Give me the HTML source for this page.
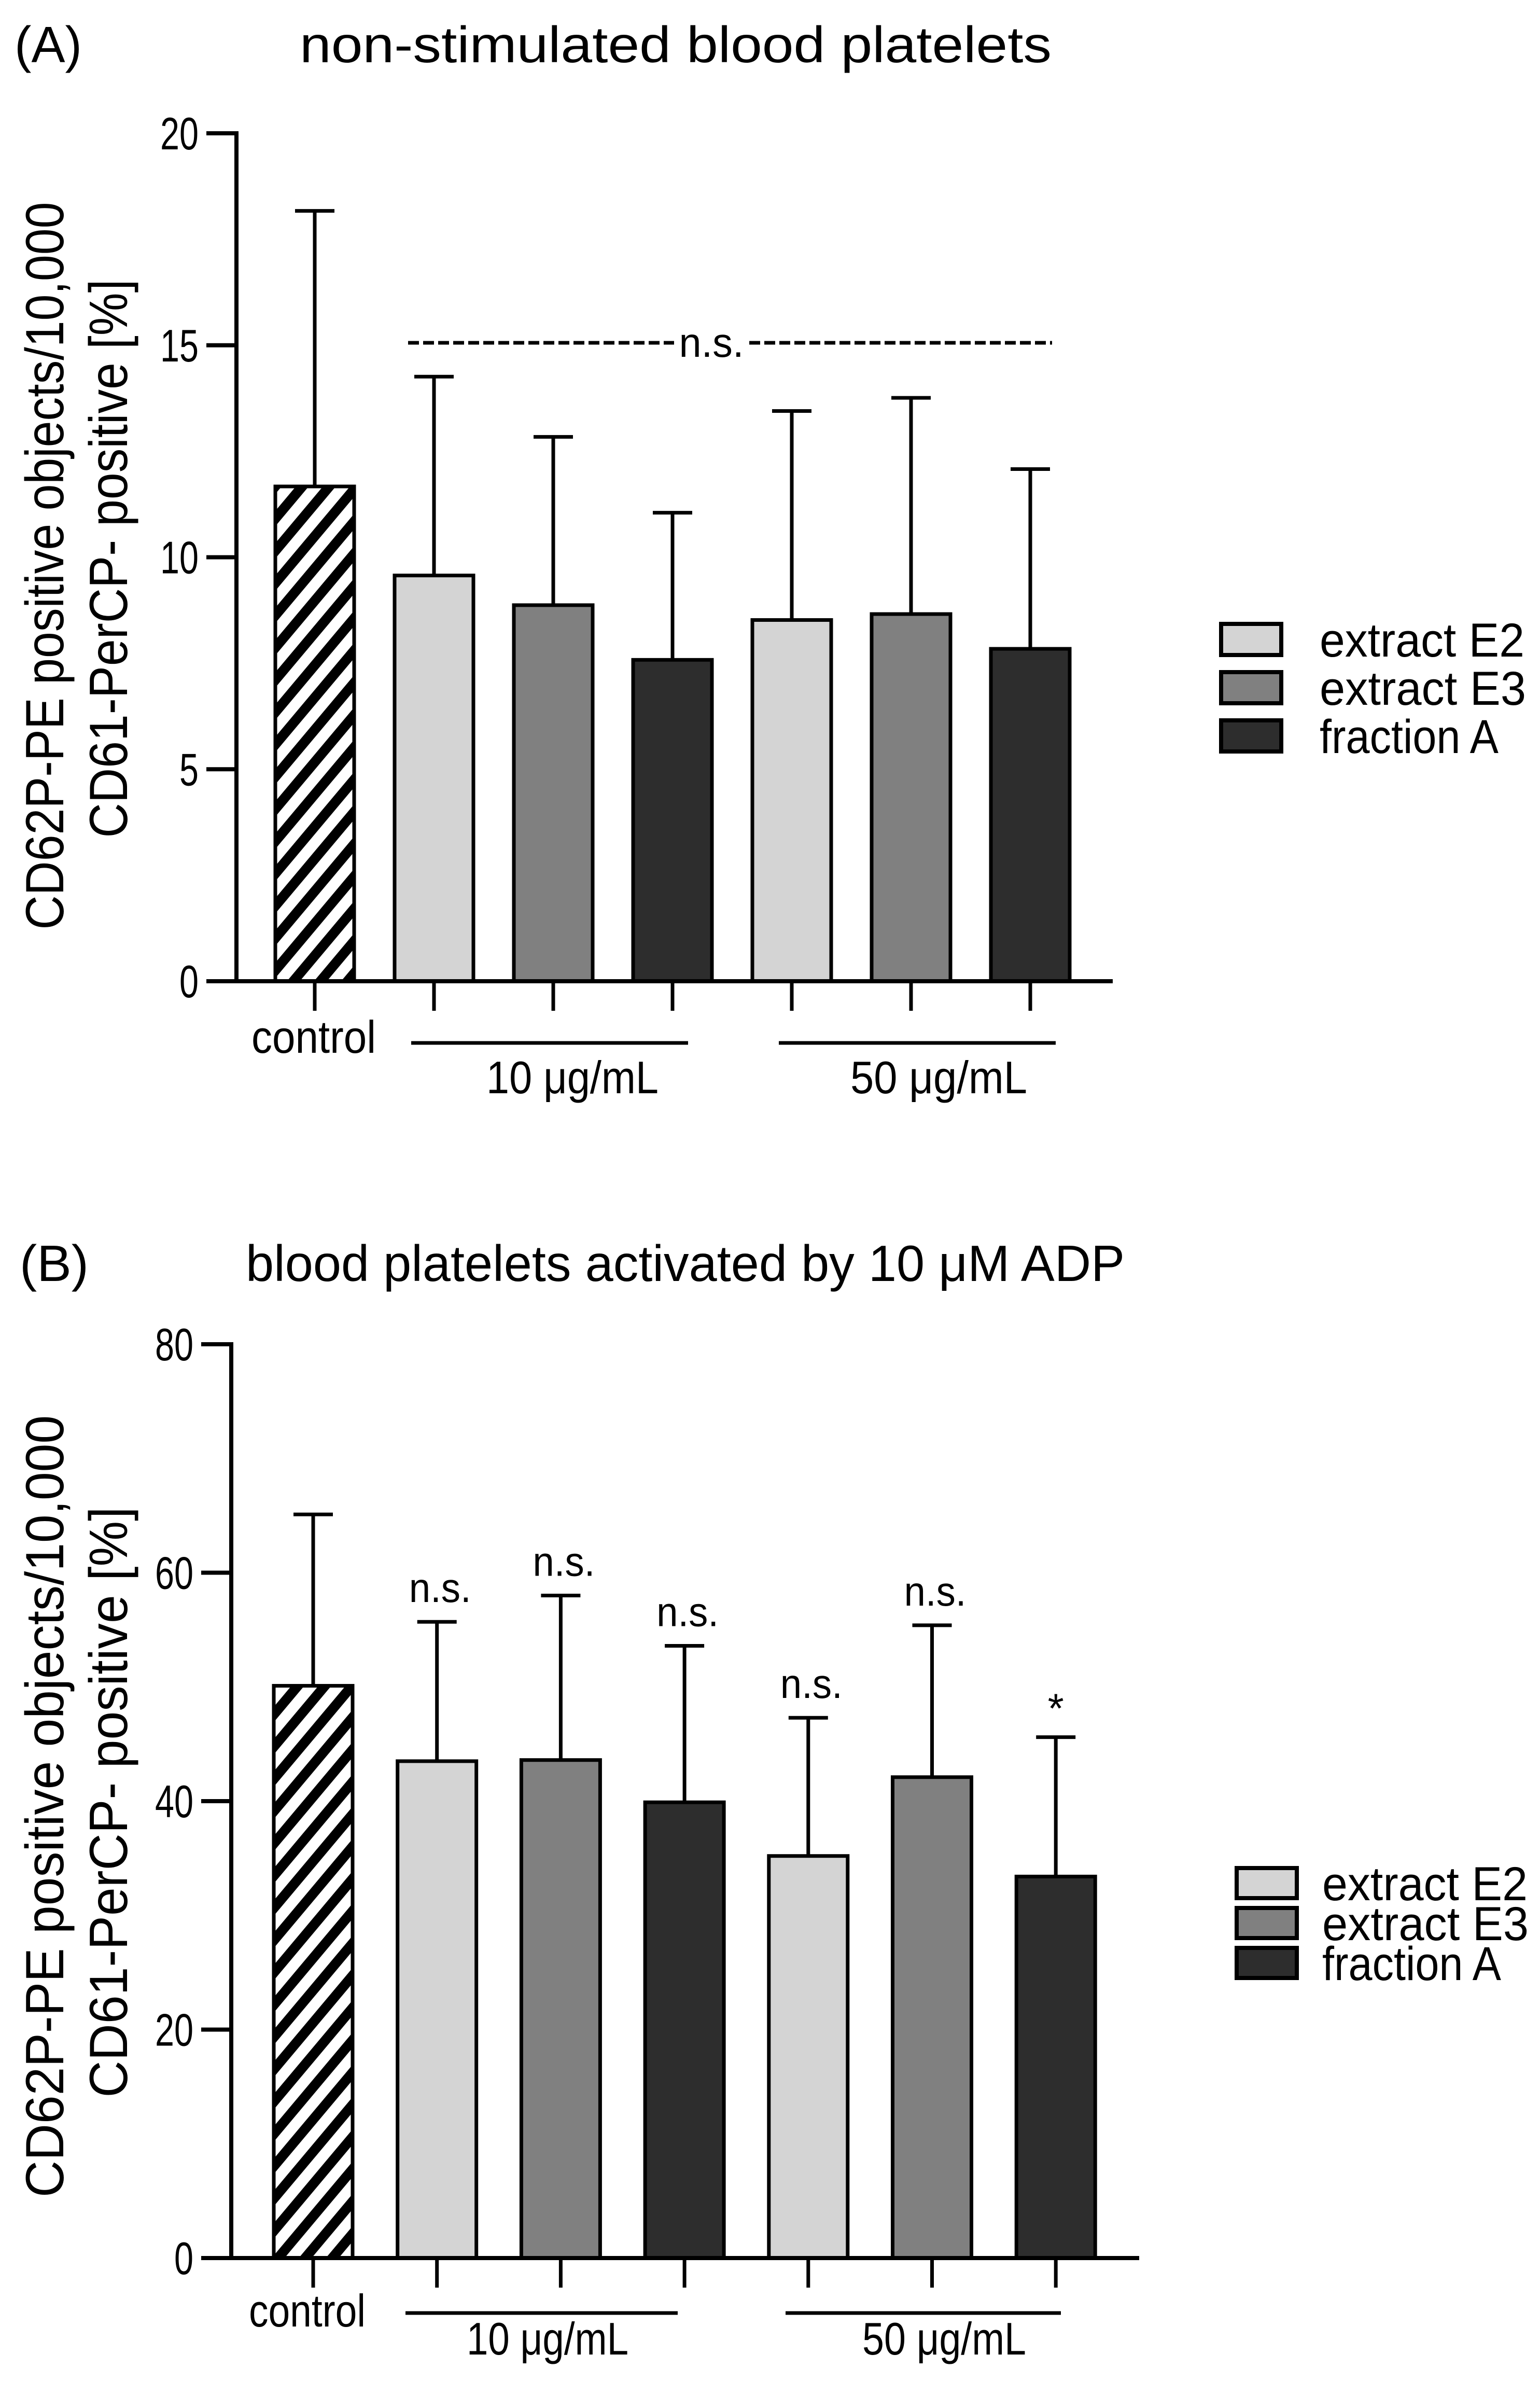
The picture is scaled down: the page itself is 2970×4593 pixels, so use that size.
<!DOCTYPE html>
<html><head><meta charset="utf-8"><style>
html,body{margin:0;padding:0;background:#fff}
svg{display:block}
text{font-family:"Liberation Sans",Arial,sans-serif;fill:#000}
</style></head><body>
<svg id="chart" width="2970" height="4593" viewBox="0 0 2970 4593" xmlns="http://www.w3.org/2000/svg">
<defs>
<pattern id="hatch" patternUnits="userSpaceOnUse" width="40" height="40" patternTransform="rotate(40)">
<rect x="0" y="0" width="40" height="40" fill="#fff"/>
<rect x="0" y="0" width="19" height="40" fill="#000"/>
</pattern>
</defs>
<g id="panelA"></g>
<g id="panelB"></g>
</svg>
<script>
// ---- data ----
const categories = ["control","E2 10","E3 10","A 10","E2 50","E3 50","A 50"];
const seriesNames = ["extract E2","extract E3","fraction A"];
const valuesA = [11.67, 9.57, 8.87, 7.58, 8.52, 8.66, 7.84];
const errorsA = [18.17, 14.26, 12.84, 11.05, 13.45, 13.76, 12.08];
const ticksA = [0, 5, 10, 15, 20];
const valuesB = [50.1, 43.5, 43.6, 39.9, 35.2, 42.1, 33.4];
const errorsB = [65.1, 55.7, 58.0, 53.6, 47.3, 55.4, 45.6];
const ticksB = [0, 20, 40, 60, 80];
const sigB = ["", "n.s.", "n.s.", "n.s.", "n.s.", "n.s.", "*"];
const fills = ["url(#hatch)","#d4d4d4","#808080","#2d2d2d","#d4d4d4","#808080","#2d2d2d"];
const legendFills = ["#d4d4d4","#808080","#2d2d2d"];

const NS = "http://www.w3.org/2000/svg";
function mk(parent, tag, attrs, txt){
  const e = document.createElementNS(NS, tag);
  for (const k in attrs) e.setAttribute(k, attrs[k]);
  if (txt !== undefined) e.textContent = txt;
  parent.appendChild(e);
  return e;
}

function drawPanel(g, cfg){
  const yScale = v => cfg.y0 - (v - cfg.yMin) / (cfg.yMax - cfg.yMin) * (cfg.y0 - cfg.yTop);
  const xScale = i => cfg.x0 + i * cfg.step;
  const bw = 152;
  let t = mk(g,'text',{x:cfg.labelX,y:cfg.titleY,'font-size':98,textLength:cfg.labelW,lengthAdjust:'spacingAndGlyphs'},cfg.label);
  
  
  t = mk(g,'text',{x:cfg.titleX,y:cfg.titleY,'font-size':98,textLength:cfg.titleW,lengthAdjust:'spacingAndGlyphs'},cfg.title);
  
  
  const yt = mk(g,'g',{});
  
  
  mk(yt,'text',{x:0,y:0,'font-size':104,'text-anchor':'middle',transform:`translate(${cfg.yl1x},${cfg.yl1c}) rotate(-90)`,textLength:cfg.yl1w,lengthAdjust:'spacingAndGlyphs'},"CD62P-PE positive objects/10,000");
  mk(yt,'text',{x:0,y:0,'font-size':104,'text-anchor':'middle',transform:`translate(${cfg.yl2x},${cfg.yl2c}) rotate(-90)`,textLength:cfg.yl2w,lengthAdjust:'spacingAndGlyphs'},"CD61-PerCP- positive [%]");
  const ya = mk(g,'g',{});
  
  
  mk(ya,'line',{x1:cfg.axX,y1:yScale(cfg.yMax)-4,x2:cfg.axX,y2:cfg.y0+4,stroke:'#000','stroke-width':8});
  cfg.ticks.forEach(v=>{
    const y = yScale(v);
    const tk = mk(ya,'line',{x1:cfg.axX-58,y1:y,x2:cfg.axX,y2:y,stroke:'#000','stroke-width':8});
    
    
    const lb = mk(ya,'text',{x:cfg.axX-73,y:y+31,'font-size':88,'text-anchor':'end',textLength:String(v).length*37,lengthAdjust:'spacingAndGlyphs'},String(v));
    
    
  });
  cfg.values.forEach((v,i)=>{
    const cx = xScale(i);
    const bg = mk(g,'g',{});
    
    
    mk(bg,'line',{x1:cx,y1:yScale(cfg.errors[i]),x2:cx,y2:yScale(v),stroke:'#000','stroke-width':7});
    mk(bg,'line',{x1:cx-38,y1:yScale(cfg.errors[i]),x2:cx+38,y2:yScale(cfg.errors[i]),stroke:'#000','stroke-width':7});
    mk(bg,'rect',{x:cx-bw/2,y:yScale(v),width:bw,height:cfg.y0-yScale(v),fill:fills[i],stroke:'#000','stroke-width':7});
    const tk = mk(g,'line',{x1:cx,y1:cfg.y0,x2:cx,y2:cfg.y0+57,stroke:'#000','stroke-width':7});
    
    
    if (cfg.sig && cfg.sig[i]) {
      const s = mk(g,'text',{x:cx+(cfg.sig[i]==='*'?0:6),y:yScale(cfg.errors[i])-(cfg.sig[i]==='*'?28:38),'font-size':80,'text-anchor':'middle'},cfg.sig[i]);
      if (cfg.sig[i]!=='*') s.setAttribute('textLength',120), s.setAttribute('lengthAdjust','spacingAndGlyphs');
      
      
    }
  });
  const xa = mk(g,'line',{x1:cfg.axX-58,y1:cfg.y0,x2:cfg.axEnd,y2:cfg.y0,stroke:'#000','stroke-width':8});
  
  
  t = mk(g,'text',{x:cfg.ctrlX,y:cfg.ctrlY,'font-size':88,textLength:cfg.ctrlW,lengthAdjust:'spacingAndGlyphs'},"control");
  
  
  cfg.groups.forEach((gr,k)=>{
    const ln = mk(g,'line',{x1:gr.x1,y1:cfg.grpY,x2:gr.x2,y2:cfg.grpY,stroke:'#000','stroke-width':7});
    
    
    const tx = mk(g,'text',{x:gr.tx,y:cfg.grpTY,'font-size':88,textLength:gr.tw,lengthAdjust:'spacingAndGlyphs'},gr.label);
    
    
  });
  seriesNames.forEach((n,i)=>{
    const lg = mk(g,'g',{});
    
    
    const y = cfg.legY + i*cfg.legStep;
    mk(lg,'rect',{x:cfg.legX,y:y,width:116,height:cfg.legH,fill:legendFills[i],stroke:'#000','stroke-width':8});
    mk(lg,'text',{x:cfg.legTX,y:y+cfg.legH/2+33,'font-size':92,textLength:cfg.legTW[i],lengthAdjust:'spacingAndGlyphs'},n);
  });
}

drawPanel(document.getElementById('panelA'),{
  label:"(A)", labelX:28, labelW:130, title:"non-stimulated blood platelets", titleX:578, titleW:1450, titleY:120,
  yMin:0, yMax:20, y0:1892, yTop:257, axX:456, axEnd:2146, x0:607, step:230,
  values:valuesA, errors:errorsA, ticks:ticksA,
  yl1x:122, yl1c:1091, yl1w:1403, yl2x:245, yl2c:1077, yl2w:1077,
  ctrlX:485, ctrlY:2030, ctrlW:240, grpY:2011, grpTY:2108,
  groups:[{x1:793,x2:1327,tx:938,tw:332,label:"10 \u03bcg/mL"},{x1:1502,x2:2036,tx:1640,tw:341,label:"50 \u03bcg/mL"}],
  legX:2355, legY:1203, legStep:93, legH:60, legTX:2545, legTW:[395,398,345]
});
(function(){
  const g = document.getElementById('panelA');
  const d1 = mk(g,'line',{x1:787,y1:661,x2:1300,y2:661,stroke:'#000','stroke-width':7,'stroke-dasharray':'21 8'});
  
  
  const d2 = mk(g,'line',{x1:1445,y1:661,x2:2029,y2:661,stroke:'#000','stroke-width':7,'stroke-dasharray':'21 8'});
  
  
  const t = mk(g,'text',{x:1372,y:688,'font-size':80,'text-anchor':'middle',textLength:125,lengthAdjust:'spacingAndGlyphs'},"n.s.");
  
  
})();

drawPanel(document.getElementById('panelB'),{
  label:"(B)", labelX:38, labelW:133, title:"blood platelets activated by 10 \u03bcM ADP", titleX:474, titleW:1695, titleY:2470,
  yMin:0, yMax:80, y0:4354, yTop:2592, axX:446, axEnd:2197, x0:604, step:238.7,
  values:valuesB, errors:errorsB, ticks:ticksB, sig:sigB,
  yl1x:122, yl1c:3483, yl1w:1508, yl2x:245, yl2c:3475, yl2w:1139,
  ctrlX:480, ctrlY:4486, ctrlW:225, grpY:4460, grpTY:4540,
  groups:[{x1:782,x2:1307,tx:900,tw:312,label:"10 \u03bcg/mL"},{x1:1515,x2:2046,tx:1663,tw:316,label:"50 \u03bcg/mL"}],
  legX:2385, legY:3602, legStep:77, legH:58, legTX:2550, legTW:[396,398,345]
});
</script>
</body></html>
